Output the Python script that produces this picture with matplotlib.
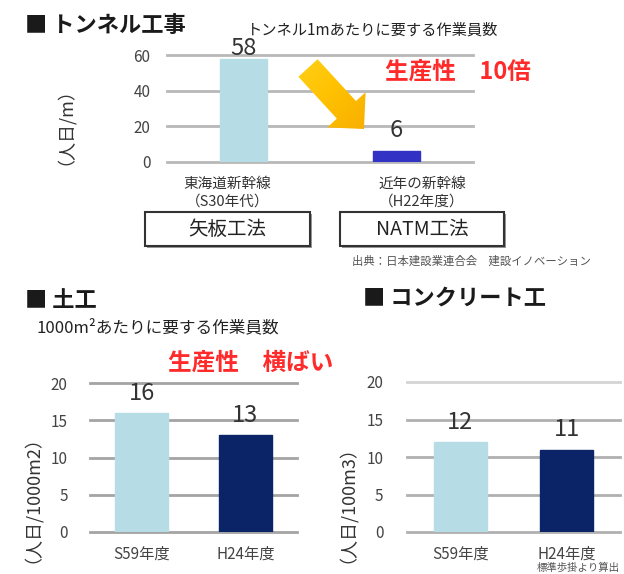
"""Construction productivity panels: tunnel, earthwork, concrete."""
import matplotlib
matplotlib.use("Agg")
import matplotlib.pyplot as plt
import numpy as np
from matplotlib.colors import LinearSegmentedColormap
from matplotlib.patches import FancyArrow, Rectangle

plt.rcParams["font.family"] = ["Noto Sans CJK JP", "DejaVu Sans"]

W, H = 624, 574
DPI = 100

# tunnel work: workers per 1 m of tunnel
TUNNEL_CATS = ["東海道新幹線\n（S30年代）", "近年の新幹線\n（H22年度）"]
TUNNEL_METHODS = ["矢板工法", "NATM工法"]
TUNNEL_VALUES = [58, 6]
TUNNEL_TICKS = [0, 20, 40, 60]

# earthwork: workers per 1000 m2
EARTH_CATS = ["S59年度", "H24年度"]
EARTH_VALUES = [16, 13]

# concrete work: workers per 100 m3
CONCRETE_CATS = ["S59年度", "H24年度"]
CONCRETE_VALUES = [12, 11]

SMALL_TICKS = [0, 5, 10, 15, 20]

LIGHT_BLUE = "#b6dde6"
TEXT_GRAY = "#444444"
RED = "#ff2a2a"


def px_axes(fig, x0, x1, y_bottom, y_top):
    """Axes placed by pixel edges (y measured from the top of the figure)."""
    return fig.add_axes([x0 / W, 1 - y_bottom / H, (x1 - x0) / W, (y_bottom - y_top) / H])


def bar_panel(ax, values, colors, width, ticks, tick_pad, grid_color, label_offsets):
    x = np.arange(len(values))
    ax.bar(x, values, width=width, color=colors,
           edgecolor=[LIGHT_BLUE if c == LIGHT_BLUE else c for c in colors],
           linewidth=1, zorder=3)
    for xi, v, off in zip(x, values, label_offsets):
        ax.annotate(str(v), (xi, v), xytext=(0, off), textcoords="offset points",
                    ha="center", va="baseline", fontsize=17, color="#333333", zorder=4)
    ax.set_xlim(-0.5, len(values) - 0.5)
    ax.set_ylim(ticks[0], ticks[-1])
    ax.set_yticks(ticks)
    ax.yaxis.grid(True, color=grid_color, linewidth=2)
    for gl in ax.get_ygridlines():
        gl.set_clip_on(False)
    ax.set_axisbelow(True)
    for s in ax.spines.values():
        s.set_visible(False)
    ax.tick_params(axis="y", length=0, pad=tick_pad, labelsize=11, labelcolor=TEXT_GRAY)
    ax.set_facecolor("none")


fig = plt.figure(figsize=(W / DPI, H / DPI), dpi=DPI)

# --- tunnel panel ---
ax_t = px_axes(fig, 167, 473, 162, 55)
bar_panel(ax_t, TUNNEL_VALUES, [LIGHT_BLUE, "#3232c4"], 0.31, TUNNEL_TICKS,
          12, "#b8b8b8", [2.5, 10])
ax_t.set_xticks([])

# --- earthwork panel ---
ax_e = px_axes(fig, 90, 297, 532, 383)
bar_panel(ax_e, EARTH_VALUES, [LIGHT_BLUE, "#0b2468"], 0.51, SMALL_TICKS,
          16, "#a4a4a4", [9.5, 9.5])
ax_e.set_xticks(range(len(EARTH_CATS)), EARTH_CATS)
ax_e.tick_params(axis="x", length=0, pad=10, labelsize=11, labelcolor=TEXT_GRAY)

# --- concrete panel ---
ax_c = px_axes(fig, 407, 620, 532, 382)
bar_panel(ax_c, CONCRETE_VALUES, [LIGHT_BLUE, "#0b2468"], 0.50, SMALL_TICKS,
          17, "#b0b0b0", [9.5, 9.5])
ax_c.set_xticks(range(len(CONCRETE_CATS)), CONCRETE_CATS)
ax_c.tick_params(axis="x", length=0, pad=10, labelsize=11, labelcolor=TEXT_GRAY)
ax_c.get_ygridlines()[-1].set_color("#d4d4d4")

# --- overlay in pixel coordinates for titles, boxes and the arrow ---
ov = fig.add_axes([0, 0, 1, 1], zorder=5)
ov.set_facecolor("none")
ov.axis("off")

ov.text(25, 25, "■ トンネル工事", fontsize=16, fontweight="bold", va="center", color="#1a1a1a")
ov.text(247, 30, "トンネル1mあたりに要する作業員数", fontsize=11, va="center", color="#222222")
ov.text(385, 72, "生産性　10倍", fontsize=17, fontweight="bold", va="center", color=RED)
ov.text(55, 117, "（人日/m）", fontsize=13, rotation=90, ha="center", va="center", color="#333333")

box_x = [(145, 310), (340, 504)]
for (x0, x1), cat, method in zip(box_x, TUNNEL_CATS, TUNNEL_METHODS):
    xc = (x0 + x1) / 2
    ov.text(xc, 193, cat, fontsize=10.5, ha="center", va="center", color="#333333", linespacing=1.35)
    ov.add_patch(Rectangle((x0 + 1.5, 213.5), x1 - x0, 34, facecolor="#999999", edgecolor="none"))
    ov.add_patch(Rectangle((x0, 212), x1 - x0, 34, facecolor="white", edgecolor="#333333", linewidth=1.5))
    ov.text(xc, 229, method, fontsize=14, ha="center", va="center", color="#222222")
ov.text(352, 261, "出典：日本建設業連合会　建設イノベーション", fontsize=8.2, va="center", color="#555555")

# yellow arrow with a gradient fill
arrow = FancyArrow(308, 68, 56, 61, width=26, head_width=52, head_length=26,
                   length_includes_head=True, facecolor="none", edgecolor="none")
ov.add_patch(arrow)
gi, gj = np.mgrid[0:100, 0:100]
grad = (gi + gj) / 198.0
cmap = LinearSegmentedColormap.from_list("arrow", ["#ffd41c", "#ffc000", "#f6aa00"])
ov.imshow(grad, extent=(290, 376, 140, 50), origin="upper", cmap=cmap,
          aspect="auto", clip_path=arrow, zorder=2)

ov.text(25, 300, "■ 土工", fontsize=16, fontweight="bold", va="center", color="#1a1a1a")
ov.text(37, 328, "1000m²あたりに要する作業員数", fontsize=12, va="center", color="#222222")
ov.text(168, 363, "生産性　横ばい", fontsize=17, fontweight="bold", va="center", color=RED)
ov.text(22, 490, "（人日/1000m2）", fontsize=13, rotation=90, ha="center", va="center", color="#333333")

ov.text(363, 298, "■ コンクリート工", fontsize=16, fontweight="bold", va="center", color="#1a1a1a")
ov.text(337, 495, "（人日/100m3）", fontsize=13, rotation=90, ha="center", va="center", color="#333333")
ov.text(620, 568, "標準歩掛より算出", fontsize=7.5, ha="right", va="center", color="#555555")

ov.set_xlim(0, W)
ov.set_ylim(H, 0)

fig.savefig("out.png", dpi=DPI)
